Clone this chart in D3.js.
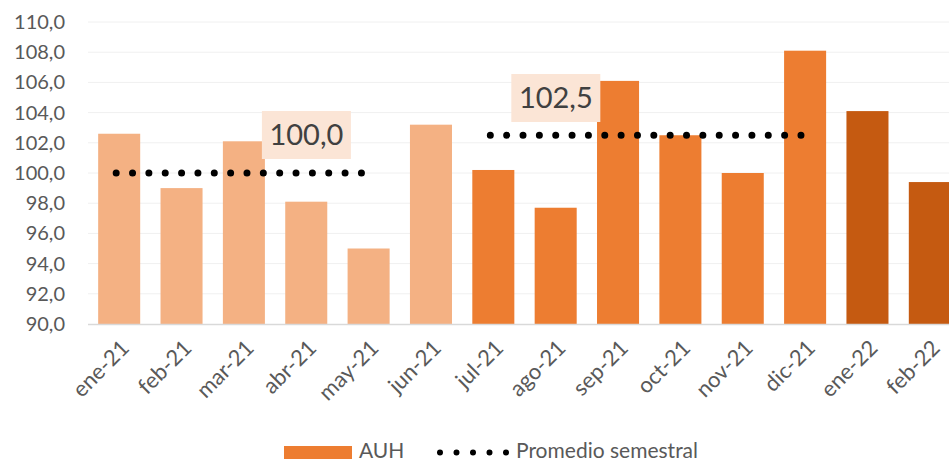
<!DOCTYPE html>
<html>
<head>
<meta charset="utf-8">
<script src="https://d3js.org/d3.v7.min.js"></script>
<style>
body { margin: 0; background: #fff; font-family: Lato, 'Open Sans', sans-serif; }
svg { display: block; }
</style>
</head>
<body>
<svg id="chart" width="949" height="463"></svg>
<script>
// data
var months = ["ene-21","feb-21","mar-21","abr-21","may-21","jun-21","jul-21","ago-21","sep-21","oct-21","nov-21","dic-21","ene-22","feb-22"];
var auh = [102.6, 99.0, 102.1, 98.1, 95.0, 103.2, 100.2, 97.7, 106.1, 102.5, 100.0, 108.1, 104.1, 99.4];
var barColors = ["#F4B183","#F4B183","#F4B183","#F4B183","#F4B183","#F4B183",
                 "#ED7D31","#ED7D31","#ED7D31","#ED7D31","#ED7D31","#ED7D31",
                 "#C55A11","#C55A11"];
// semester average (line series), null where blank
var promedio = [100.0, 100.0, 100.0, 100.0, 100.0, null, 102.5, 102.5, 102.5, 102.5, 102.5, 102.5, null, null];
var promLabels = [{i: 2, value: "100,0"}, {i: 6, value: "102,5"}];
var yTicks = [90, 92, 94, 96, 98, 100, 102, 104, 106, 108, 110];

var svg = d3.select("#chart");
// plot runs a little past the right edge (last bar is clipped in the original)
var pLeft = 88, pRight = 961, pTop = 22, pBottom = 324;

var x = d3.scaleBand().domain(months).range([pLeft, pRight]).paddingInner(0.326).paddingOuter(0.163);
var y = d3.scaleLinear().domain([90, 110]).range([pBottom, pTop]);
var fmt = function(v){ return d3.format(".1f")(v).replace(".", ","); };
var cx = function(m){ return x(m) + x.bandwidth()/2; };

// gridlines
svg.append("g").selectAll("line").data(yTicks.slice(1)).enter().append("line")
  .attr("x1", pLeft).attr("x2", pRight)
  .attr("y1", function(d){ return y(d); }).attr("y2", function(d){ return y(d); })
  .attr("stroke", "#F0F0F0").attr("stroke-width", 1);

// y labels
svg.append("g").selectAll("text").data(yTicks).enter().append("text")
  .attr("x", 65).attr("y", function(d){ return y(d); }).attr("dy", "0.35em")
  .attr("text-anchor", "end").attr("fill", "#595959").style("font-size", "20px")
  .text(fmt);

// bars
svg.append("g").selectAll("rect").data(auh).enter().append("rect")
  .attr("x", function(d, i){ return x(months[i]); })
  .attr("width", x.bandwidth())
  .attr("y", function(d){ return y(d); })
  .attr("height", function(d){ return pBottom - y(d); })
  .attr("fill", function(d, i){ return barColors[i]; });

// axis line
svg.append("line").attr("x1", pLeft).attr("x2", pRight).attr("y1", pBottom + 0.5).attr("y2", pBottom + 0.5)
  .attr("stroke", "#D9D9D9").attr("stroke-width", 1.5);

// x labels
svg.append("g").selectAll("text").data(months).enter().append("text")
  .attr("transform", function(d){ return "translate(" + (cx(d) + 6) + "," + 344 + ") rotate(-45)"; })
  .attr("text-anchor", "end").attr("dy", "0.35em")
  .attr("fill", "#595959").style("font-size", "22px")
  .text(function(d){ return d; });

// dotted average line
var line = d3.line()
  .defined(function(d){ return d != null; })
  .x(function(d, i){ return cx(months[i]); })
  .y(function(d){ return y(d); });
var segs = [promedio.map(function(d, i){ return i < 5 ? d : null; }), promedio.map(function(d, i){ return i > 5 ? d : null; })];
segs.forEach(function(s){
  svg.append("path").datum(s).attr("d", line)
    .attr("fill", "none").attr("stroke", "#000").attr("stroke-width", 7)
    .attr("stroke-linecap", "round").attr("stroke-dasharray", "0 16.35")
    .attr("transform", "translate(-3,0)");
});

// average labels
var boxY = [111, 74];
var lab = svg.append("g").selectAll("g").data(promLabels).enter().append("g");
lab.append("rect")
  .attr("x", function(d){ return cx(months[d.i]) + 18; })
  .attr("y", function(d, k){ return boxY[k]; })
  .attr("width", 89).attr("height", 48).attr("fill", "#FBE5D6");
lab.append("text")
  .attr("x", function(d){ return cx(months[d.i]) + 62.5; })
  .attr("y", function(d, k){ return boxY[k] + 24; })
  .attr("dy", "0.35em").attr("text-anchor", "middle")
  .attr("fill", "#404040").style("font-size", "29px")
  .text(function(d){ return d.value; });

// legend
var lg = svg.append("g");
lg.append("rect").attr("x", 284).attr("y", 446).attr("width", 68).attr("height", 13).attr("fill", "#ED7D31");
lg.append("text").attr("x", 359).attr("y", 458).attr("fill", "#595959").style("font-size", "21px").text("AUH");
lg.append("line").attr("x1", 440).attr("x2", 507).attr("y1", 452.5).attr("y2", 452.5)
  .attr("stroke", "#000").attr("stroke-width", 6).attr("stroke-linecap", "round").attr("stroke-dasharray", "0 16.5");
lg.append("text").attr("x", 516).attr("y", 458).attr("fill", "#595959").style("font-size", "21px").text("Promedio semestral");
</script>
</body>
</html>
